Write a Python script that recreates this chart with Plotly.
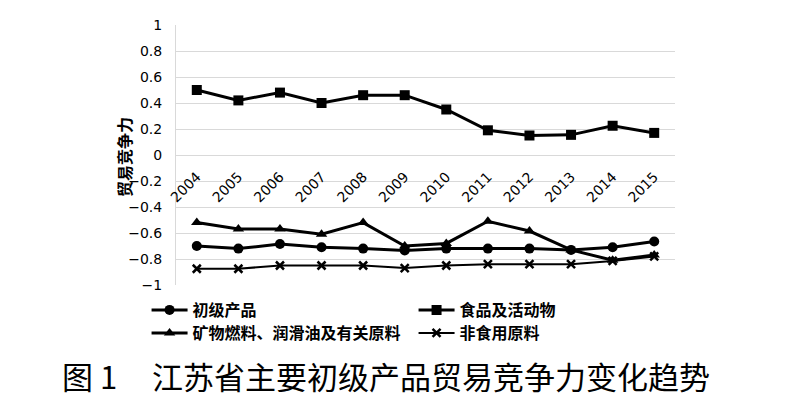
import plotly.graph_objects as go

years = ["2004", "2005", "2006", "2007", "2008", "2009", "2010", "2011", "2012", "2013", "2014", "2015"]
primary = [-0.70, -0.72, -0.685, -0.71, -0.72, -0.735, -0.72, -0.72, -0.72, -0.73, -0.71, -0.665]
food = [0.50, 0.42, 0.48, 0.40, 0.46, 0.46, 0.35, 0.19, 0.15, 0.155, 0.225, 0.17]
fuel = [-0.52, -0.57, -0.57, -0.61, -0.52, -0.70, -0.68, -0.51, -0.585, -0.73, -0.81, -0.77]
nonfood = [-0.875, -0.875, -0.85, -0.85, -0.85, -0.87, -0.85, -0.84, -0.84, -0.84, -0.815, -0.78]

names = ["初级产品", "食品及活动物", "矿物燃料、润滑油及有关原料", "非食用原料"]
y_title = "贸易竞争力"
fig_no = "图 1"
fig_title = "江苏省主要初级产品贸易竞争力变化趋势"

# page body has an 8px default margin; the figure is offset by it
OFF = 8
PL, PT, PW, PH = 176, 25, 499, 260  # plot area in page pixels


def px(xp):
    return (xp - PL) / PW


def py(yp):
    return (PT + PH - yp) / PH


fig = go.Figure()
specs = [
    (primary, names[0], "circle", 10, 3, "legend"),
    (food, names[1], "square", 10, 3, "legend"),
    (fuel, names[2], "triangle-up", 10, 3, "legend2"),
    (nonfood, names[3], "x-thin", 8, 2, "legend2"),
]
for vals, nm, sym, sz, lw, lg in specs:
    fig.add_trace(go.Scatter(
        x=years, y=vals, name=nm, mode="lines+markers",
        line=dict(color="black", width=lw),
        marker=dict(symbol=sym, size=sz, color="black",
                    line=dict(color="black", width=2.5 if sym == "x-thin" else 0)),
        legend=lg,
    ))

legend_font = dict(family="Noto Sans CJK SC", size=16, weight="bold", color="black")
fig.update_layout(
    width=800 - OFF, height=398 - OFF,
    margin=dict(l=PL - OFF, r=125, t=PT - OFF, b=113, autoexpand=False),
    paper_bgcolor="white", plot_bgcolor="white",
    font=dict(family="DejaVu Sans", color="black"),
    showlegend=True,
    legend=dict(orientation="h", x=-0.059, y=py(310), xanchor="left", yanchor="middle",
                entrywidth=216, entrywidthmode="pixels",
                font=legend_font, bgcolor="rgba(0,0,0,0)", itemwidth=36),
    legend2=dict(orientation="h", x=-0.059, y=py(333), xanchor="left", yanchor="middle",
                 entrywidth=216, entrywidthmode="pixels",
                 font=legend_font, bgcolor="rgba(0,0,0,0)", itemwidth=36),
    xaxis=dict(type="category", range=[-0.5, 11.5], anchor="free", position=0.5,
               showline=False, showgrid=False, ticks="", tickangle=-45, automargin=False,
               ticklabelstandoff=10,
               tickfont=dict(size=14, family="DejaVu Sans", color="black"),
               zeroline=False),
    yaxis=dict(range=[-1, 1], dtick=0.2, tick0=0, showgrid=True, gridcolor="#d9d9d9",
               gridwidth=1, zeroline=True, zerolinecolor="#d9d9d9", zerolinewidth=1,
               showline=True, linecolor="#d9d9d9", linewidth=1, automargin=False,
               ticks="", ticklabelstandoff=10,
               tickfont=dict(size=14, family="DejaVu Sans", color="black")),
)

fig.add_annotation(text=y_title, xref="paper", yref="paper", x=px(124), y=py(157),
                   xanchor="center", yanchor="middle", textangle=-90, showarrow=False,
                   font=dict(family="Noto Sans CJK SC", size=16, weight="bold", color="black"))

ty = py(375)
fig.add_annotation(text=fig_no, xref="paper", yref="paper",
                   x=px(60), y=ty, xanchor="left", yanchor="middle",
                   showarrow=False, font=dict(family="Noto Sans CJK SC", size=31, color="black"))
fig.add_annotation(text=fig_title, xref="paper", yref="paper",
                   x=px(150), y=ty, xanchor="left", yanchor="middle",
                   showarrow=False, font=dict(family="Noto Sans CJK SC", size=31, color="black"))

fig.write_html("out.html")
